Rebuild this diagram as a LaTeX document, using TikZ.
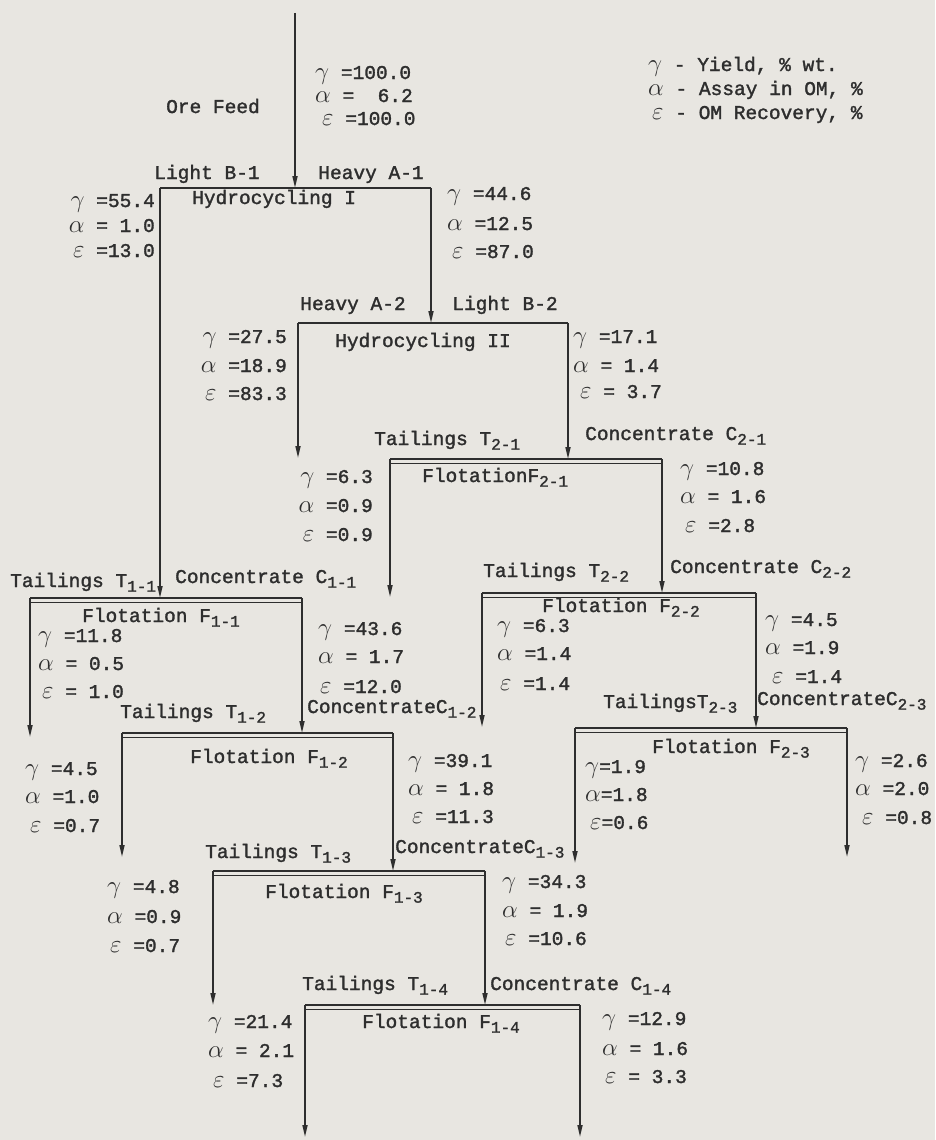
\documentclass[tikz,border=0pt]{standalone}
\usepackage{fontspec}
\usepackage{graphicx}
\setmainfont{Liberation Mono}[BoldFont={Liberation Mono},BoldFeatures={FakeBold=1.6}]
\usetikzlibrary{arrows.meta,positioning}
\definecolor{paper}{RGB}{232,230,225}
\definecolor{ink}{RGB}{46,46,46}
\newcommand{\lowsub}[1]{\raisebox{-0.45ex}{\fontsize{16}{16}\selectfont #1}}
\newcommand{\gy}{\scalebox{1.2}{$\gamma$}}
\newcommand{\ay}{\scalebox{1.2}{$\alpha$}}
\newcommand{\ey}{\scalebox{1.2}{$\varepsilon$}}

\begin{document}
\begin{tikzpicture}[x=1pt,y=-1pt,>={Triangle[length=12pt,width=5pt]},
    txt/.style={inner sep=0pt,anchor=west,text=ink,
      font=\fontsize{19.5}{22}\selectfont\bfseries,text height=13pt,text depth=3pt},
    flow/.style={draw=ink,line width=1.6pt,->},
    bar/.style={draw=ink,line width=2.8pt},
    rim/.style={draw=ink,line width=1pt}]

    \useasboundingbox (0,0) rectangle (935,1140);
    \fill[paper] (0,0) rectangle (935,1140);

    % stages: left and right ends of the top bars
    \coordinate (feed) at (295,13);
    \coordinate (h1l) at (160,188);  \coordinate (h1r) at (431,188);
    \coordinate (h2l) at (298,323);  \coordinate (h2r) at (568,323);
    \coordinate (f21l) at (390,459); \coordinate (f21r) at (662,459);
    \coordinate (f11l) at (30,598);  \coordinate (f11r) at (302,598);
    \coordinate (f22l) at (482,593); \coordinate (f22r) at (756,593);
    \coordinate (f12l) at (122,733); \coordinate (f12r) at (393,733);
    \coordinate (f23l) at (575,728); \coordinate (f23r) at (847,728);
    \coordinate (f13l) at (213,871); \coordinate (f13r) at (485,871);
    \coordinate (f14l) at (305,1005); \coordinate (f14r) at (580,1005);

    % end products
    \coordinate (h2lo) at (298,458);
    \coordinate (f21lo) at (390,597);
    \coordinate (f11lo) at (30,737);
    \coordinate (f22lo) at (482,727);
    \coordinate (f12lo) at (122,857);
    \coordinate (f23lo) at (575,863);
    \coordinate (f23ro) at (847,857);
    \coordinate (f13lo) at (213,1005);
    \coordinate (f14lo) at (305,1137);
    \coordinate (f14ro) at (580,1137);

    \draw[flow] (feed) -- (feed |- h1l);
    \draw[flow] (h1l) -- (h1l |- f11l);
    \draw[flow] (h1r) -- (h1r |- h2l);
    \draw[flow] (h2l) -- (h2lo);
    \draw[flow] (h2r) -- (h2r |- f21l);
    \draw[flow] (f21l) -- (f21lo);
    \draw[flow] (f21r) -- (f21r |- f22l);
    \draw[flow] (f11l) -- (f11lo);
    \draw[flow] (f11r) -- (f11r |- f12l);
    \draw[flow] (f22l) -- (f22lo);
    \draw[flow] (f22r) -- (f22r |- f23l);
    \draw[flow] (f12l) -- (f12lo);
    \draw[flow] (f12r) -- (f12r |- f13l);
    \draw[flow] (f23l) -- (f23lo);
    \draw[flow] (f23r) -- (f23ro);
    \draw[flow] (f13l) -- (f13lo);
    \draw[flow] (f13r) -- (f13r |- f14l);
    \draw[flow] (f14l) -- (f14lo);
    \draw[flow] (f14r) -- (f14ro);

    \draw[bar] (h1l) -- (h1r);
    \draw[bar] (h2l) -- (h2r);
    \draw[bar] (f21l) -- (f21r); \draw[rim] ([yshift=-4pt]f21l) -- ([yshift=-4pt]f21r);
    \draw[bar] (f11l) -- (f11r); \draw[rim] ([yshift=-4pt]f11l) -- ([yshift=-4pt]f11r);
    \draw[bar] (f22l) -- (f22r); \draw[rim] ([yshift=-4pt]f22l) -- ([yshift=-4pt]f22r);
    \draw[bar] (f12l) -- (f12r); \draw[rim] ([yshift=-4pt]f12l) -- ([yshift=-4pt]f12r);
    \draw[bar] (f23l) -- (f23r); \draw[rim] ([yshift=-4pt]f23l) -- ([yshift=-4pt]f23r);
    \draw[bar] (f13l) -- (f13r); \draw[rim] ([yshift=-4pt]f13l) -- ([yshift=-4pt]f13r);
    \draw[bar] (f14l) -- (f14r); \draw[rim] ([yshift=-4pt]f14l) -- ([yshift=-4pt]f14r);

    % legend
    \node[txt] (keyg) at (648,66) {\gy{} - Yield, \% wt.};
    \node[txt] (keya) at (648,90) {\ay{} - Assay in OM, \%};
    \node[txt] (keye) at (652,114) {\ey{} - OM Recovery, \%};

    % feed
    \node[txt,anchor=center] (ore) at (213,108) {Ore Feed};
    \node[txt] (feedg) at (315,74) {\gy{} =100.0};
    \node[txt] (feeda) at (315,97) {\ay{} =~~6.2};
    \node[txt] (feede) at (322,120) {\ey{} =100.0};

    % hydrocycling I
    \node[txt,anchor=center] (lb1) at (207,174) {Light B-1};
    \node[txt,anchor=center] (ha1) at (371,174) {Heavy A-1};
    \node[txt] (hyd1) at (192,199) {Hydrocycling I};
    \node[txt,anchor=east] (h1lg) at (155,202) {\gy{} =55.4};
    \node[txt,anchor=east] (h1la) at (155,227) {\ay{} = 1.0};
    \node[txt,anchor=east] (h1le) at (155,252) {\ey{} =13.0};
    \node[txt] (h1rg) at (447,195) {\gy{} =44.6};
    \node[txt] (h1ra) at (447,225) {\ay{} =12.5};
    \node[txt] (h1re) at (452,253) {\ey{} =87.0};

    % hydrocycling II
    \node[txt,anchor=center] (ha2) at (353,305) {Heavy A-2};
    \node[txt,anchor=center] (lb2) at (505,305) {Light B-2};
    \node[txt] (hyd2) at (335,342) {Hydrocycling II};
    \node[txt,anchor=east] (h2lg) at (287,338) {\gy{} =27.5};
    \node[txt,anchor=east] (h2la) at (287,367) {\ay{} =18.9};
    \node[txt,anchor=east] (h2le) at (287,395) {\ey{} =83.3};
    \node[txt] (h2rg) at (573,338) {\gy{} =17.1};
    \node[txt] (h2ra) at (573,367) {\ay{} = 1.4};
    \node[txt] (h2re) at (580,393) {\ey{} = 3.7};

    % flotation F2-1
    \node[txt] (t21) at (374,440) {Tailings T\lowsub{2-1}};
    \node[txt] (c21) at (585,435) {Concentrate C\lowsub{2-1}};
    \node[txt] (fl21) at (422,477) {FlotationF\lowsub{2-1}};
    \node[txt,anchor=east] (f21lg) at (373,478) {\gy{} =6.3};
    \node[txt,anchor=east] (f21la) at (373,507) {\ay{} =0.9};
    \node[txt,anchor=east] (f21le) at (373,536) {\ey{} =0.9};
    \node[txt] (f21rg) at (680,470) {\gy{} =10.8};
    \node[txt] (f21ra) at (680,498) {\ay{} = 1.6};
    \node[txt] (f21re) at (685,527) {\ey{} =2.8};

    % flotation F1-1
    \node[txt] (t11) at (10,582) {Tailings T\lowsub{1-1}};
    \node[txt] (c11) at (175,578) {Concentrate C\lowsub{1-1}};
    \node[txt] (fl11) at (82,617) {Flotation F\lowsub{1-1}};
    \node[txt] (f11lg) at (38,637) {\gy{} =11.8};
    \node[txt] (f11la) at (38,665) {\ay{} = 0.5};
    \node[txt] (f11le) at (42,693) {\ey{} = 1.0};
    \node[txt] (f11rg) at (318,630) {\gy{} =43.6};
    \node[txt] (f11ra) at (318,658) {\ay{} = 1.7};
    \node[txt] (f11re) at (320,688) {\ey{} =12.0};

    % flotation F2-2
    \node[txt] (t22) at (483,572) {Tailings T\lowsub{2-2}};
    \node[txt] (c22) at (670,568) {Concentrate C\lowsub{2-2}};
    \node[txt] (fl22) at (542,607) {Flotation F\lowsub{2-2}};
    \node[txt] (f22lg) at (497,627) {\gy{} =6.3};
    \node[txt] (f22la) at (497,655) {\ay{} =1.4};
    \node[txt] (f22le) at (500,685) {\ey{} =1.4};
    \node[txt] (f22rg) at (765,621) {\gy{} =4.5};
    \node[txt] (f22ra) at (765,649) {\ay{} =1.9};
    \node[txt] (f22re) at (772,678) {\ey{} =1.4};

    % flotation F1-2
    \node[txt] (t12) at (120,713) {Tailings T\lowsub{1-2}};
    \node[txt] (c12) at (307,708) {ConcentrateC\lowsub{1-2}};
    \node[txt] (fl12) at (190,758) {Flotation F\lowsub{1-2}};
    \node[txt] (f12lg) at (25,770) {\gy{} =4.5};
    \node[txt] (f12la) at (25,798) {\ay{} =1.0};
    \node[txt] (f12le) at (30,827) {\ey{} =0.7};
    \node[txt] (f12rg) at (408,762) {\gy{} =39.1};
    \node[txt] (f12ra) at (408,790) {\ay{} = 1.8};
    \node[txt] (f12re) at (412,818) {\ey{} =11.3};

    % flotation F2-3
    \node[txt] (t23) at (603,703) {TailingsT\lowsub{2-3}};
    \node[txt] (c23) at (757,700) {ConcentrateC\lowsub{2-3}};
    \node[txt] (fl23) at (652,748) {Flotation F\lowsub{2-3}};
    \node[txt] (f23lg) at (585,768) {\gy{}=1.9};
    \node[txt] (f23la) at (585,796) {\ay{}=1.8};
    \node[txt] (f23le) at (590,824) {\ey{}=0.6};
    \node[txt] (f23rg) at (855,762) {\gy{} =2.6};
    \node[txt] (f23ra) at (855,790) {\ay{} =2.0};
    \node[txt] (f23re) at (862,819) {\ey{} =0.8};

    % flotation F1-3
    \node[txt] (t13) at (205,853) {Tailings T\lowsub{1-3}};
    \node[txt] (c13) at (395,848) {ConcentrateC\lowsub{1-3}};
    \node[txt] (fl13) at (265,893) {Flotation F\lowsub{1-3}};
    \node[txt] (f13lg) at (107,888) {\gy{} =4.8};
    \node[txt] (f13la) at (107,918) {\ay{} =0.9};
    \node[txt] (f13le) at (110,947) {\ey{} =0.7};
    \node[txt] (f13rg) at (502,883) {\gy{} =34.3};
    \node[txt] (f13ra) at (502,912) {\ay{} = 1.9};
    \node[txt] (f13re) at (505,940) {\ey{} =10.6};

    % flotation F1-4
    \node[txt] (t14) at (302,985) {Tailings T\lowsub{1-4}};
    \node[txt] (c14) at (490,985) {Concentrate C\lowsub{1-4}};
    \node[txt] (fl14) at (362,1023) {Flotation F\lowsub{1-4}};
    \node[txt] (f14lg) at (208,1023) {\gy{} =21.4};
    \node[txt] (f14la) at (208,1052) {\ay{} = 2.1};
    \node[txt] (f14le) at (213,1082) {\ey{} =7.3};
    \node[txt] (f14rg) at (602,1020) {\gy{} =12.9};
    \node[txt] (f14ra) at (602,1050) {\ay{} = 1.6};
    \node[txt] (f14re) at (605,1078) {\ey{} = 3.3};

\end{tikzpicture}
\end{document}
